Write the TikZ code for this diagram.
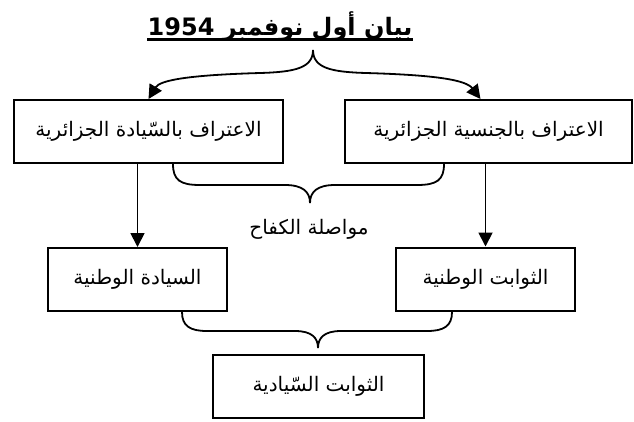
\documentclass[tikz,border=0pt]{standalone}
\usepackage{fontspec}
\usetikzlibrary{arrows.meta,calc}
\TeXXeTstate=1
\newfontfamily\arabicfont[Script=Arabic]{DejaVu Sans}
\begin{document}
\begin{tikzpicture}[x=1pt,y=-1pt,
  box/.style={draw, line width=2pt, inner sep=0pt, align=center,
    font=\arabicfont\fontsize{20}{24}\selectfont},
  lbl/.style={inner sep=0pt, font=\arabicfont\fontsize{20}{24}\selectfont},
  conn/.style={line width=1.8pt},
  arr/.style={conn, -{Triangle[length=14pt,width=14pt]}},
]
\useasboundingbox (0,0) rectangle (634,421);

% title
\node[anchor=base, inner sep=0pt, font=\arabicfont\bfseries\fontsize{24}{28}\selectfont]
  (title) at (280,35) {\beginR بيان أول نوفمبر \beginL 1954\endL\endR};
\draw[line width=2.4pt] ([yshift=-4.5pt]title.base west) -- ([yshift=-4.5pt]title.base east);

% boxes
\node[box, minimum width=269pt, minimum height=63pt] (topL) at (148.5,131.5)
  {\beginR الاعتراف بالسّيادة الجزائرية\endR};
\node[box, minimum width=287pt, minimum height=63pt] (topR) at (488.5,131.5)
  {\beginR الاعتراف بالجنسية الجزائرية\endR};
\node[box, minimum width=179pt, minimum height=63pt] (midL) at (137.5,279.5)
  {\beginR السيادة الوطنية\endR};
\node[box, minimum width=179pt, minimum height=63pt] (midR) at (485.5,279)
  {\beginR الثوابت الوطنية\endR};
\node[box, minimum width=211pt, minimum height=63pt] (bot) at (318.5,386.5)
  {\beginR الثوابت السّيادية\endR};
\node[lbl] (kifah) at (309,229) {\beginR مواصلة الكفاح\endR};

% top brace with arrows
\coordinate (t0) at (313,50);
\coordinate (tR) at ($(topR.north)+(-8,0)$);
\draw[arr] (t0) .. controls (313,68) and (295,72) .. (260,73)
  .. controls (190,75) and (160,80) .. (topL.north);
\draw[arr] (t0) .. controls (313,68) and (331,72) .. (366,73)
  .. controls (436,75) and (466,80) .. (tR);

% vertical arrows
\draw[arr] (topL.south -| midL.north) -- (midL.north);
\draw[arr] (topR.south -| midR.north) -- (midR.north);

% middle brace
\coordinate (m0) at (310,203);
\coordinate (mL) at (173,164);
\coordinate (mR) at (444,164);
\draw[conn] (mL) .. controls (173,180) and (180,185) .. (200,185) -- (285,185)
  .. controls (303,185) and (310,192) .. (m0);
\draw[conn] (mR) .. controls (444,180) and (437,185) .. (417,185) -- (335,185)
  .. controls (317,185) and (310,192) .. (m0);

% bottom brace
\coordinate (b0) at (318,348);
\coordinate (bL) at (182,312);
\coordinate (bR) at (452,312);
\draw[conn] (bL) .. controls (182,326) and (190,331) .. (207,331) -- (295,331)
  .. controls (312,331) and (318,338) .. (b0);
\draw[conn] (bR) .. controls (452,326) and (444,331) .. (427,331) -- (341,331)
  .. controls (324,331) and (318,338) .. (b0);
\end{tikzpicture}
\end{document}
